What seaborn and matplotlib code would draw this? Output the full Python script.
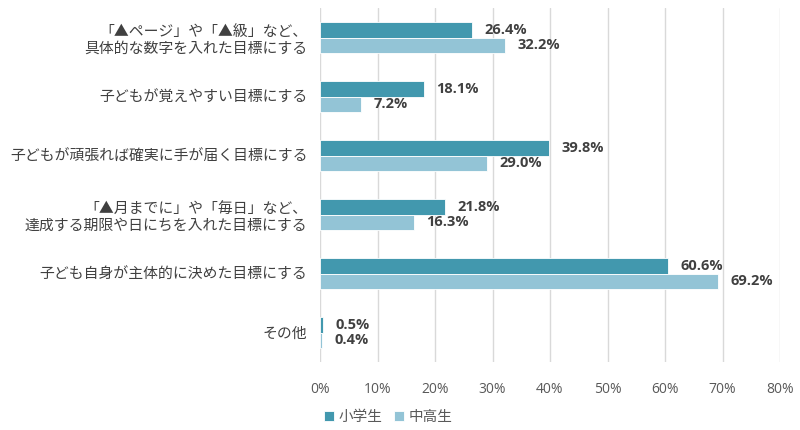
import matplotlib
matplotlib.use("Agg")
import matplotlib.pyplot as plt
import pandas as pd
import seaborn as sns

categories = [
    "「▲ページ」や「▲級」など、\n具体的な数字を入れた目標にする",
    "子どもが覚えやすい目標にする",
    "子どもが頑張れば確実に手が届く目標にする",
    "「▲月までに」や「毎日」など、\n達成する期限や日にちを入れた目標にする",
    "子ども自身が主体的に決めた目標にする",
    "その他",
]
series = ["小学生", "中高生"]
elementary = [26.4, 18.1, 39.8, 21.8, 60.6, 0.5]
secondary = [32.2, 7.2, 29.0, 16.3, 69.2, 0.4]
colors = ["#4298AE", "#93C4D6"]

df = pd.DataFrame({
    "category": categories * 2,
    "group": [series[0]] * len(categories) + [series[1]] * len(categories),
    "value": elementary + secondary,
})

sns.set_theme(style="white")
jp = ["Noto Sans CJK JP", "DejaVu Sans"]
plt.rcParams["font.family"] = jp

fig = plt.figure(figsize=(8, 4.3), dpi=100)
ax = fig.add_axes([0.4, 0.158, 0.575, 0.823])

sns.barplot(
    data=df, y="category", x="value", hue="group", order=categories,
    hue_order=series, palette=colors, saturation=1, orient="h", width=0.53,
    edgecolor="white", linewidth=0.6, ax=ax, legend=True,
)

for cont in ax.containers:
    ax.bar_label(cont, fmt="{:.1f}%", padding=9, fontsize=10.5,
                 fontweight="bold", color="#404040", family=["Open Sans", "DejaVu Sans"])

ax.set_xlim(0, 80)
ax.set_xticks(range(0, 81, 10))
ax.set_xticklabels([f"{t}%" for t in range(0, 81, 10)], color="#595959",
                   fontsize=10, family=["Open Sans", "DejaVu Sans"])
ax.tick_params(axis="x", pad=14, length=0)
ax.tick_params(axis="y", length=0, pad=9)
for lbl in ax.get_yticklabels():
    lbl.set_fontsize(10.7)
    lbl.set_color("#404040")
    lbl.set_horizontalalignment("right")
    lbl.set_multialignment("right")
ax.grid(axis="x", color="#D9D9D9", linewidth=1)
ax.set_axisbelow(True)
for s in ax.spines.values():
    s.set_visible(False)
ax.set_xlabel("")
ax.set_ylabel("")

handles, labels = ax.get_legend_handles_labels()
ax.legend_.remove()
fig.legend(handles, labels, loc="center", bbox_to_anchor=(0.485, 0.03),
           ncol=2, frameon=False, handlelength=0.7, handleheight=0.7,
           handletextpad=0.3, columnspacing=0.8,
           prop={"family": jp, "size": 10.5}, labelcolor="#595959")

fig.savefig("out.png", dpi=100)
